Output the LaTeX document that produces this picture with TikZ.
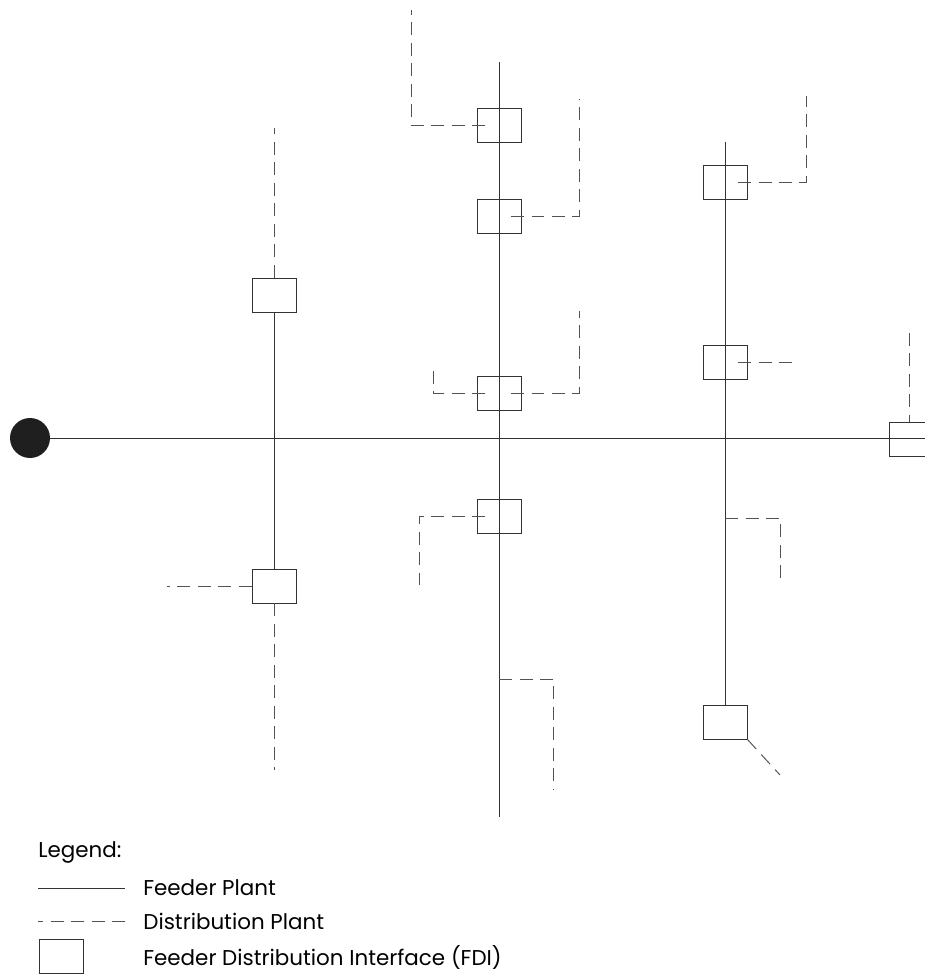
\documentclass[tikz,border=0pt]{standalone}
\usepackage{fontspec}
\setmainfont{Poppins}
\usetikzlibrary{positioning,calc}
\definecolor{plantgray}{HTML}{333333}
\tikzset{
  feeder/.style={draw=plantgray,line width=0.55pt},
  distrib/.style={draw=plantgray!85,line width=0.55pt,dash pattern=on 0.26cm off 0.15cm},
  fdi/.style={draw=plantgray,line width=0.55pt,minimum width=0.88cm,minimum height=0.68cm,inner sep=0pt},
  legtext/.style={anchor=west,inner sep=0pt,font=\fontsize{12.2}{14}\selectfont}
}

\begin{document}
\begin{tikzpicture}[x=0.02cm,y=-0.02cm]
  \useasboundingbox (0,0) rectangle (925,976);
  \clip (0,0) rectangle (925,976);
  % source
  \node[circle,fill=black!88,minimum size=0.8cm,inner sep=0pt] (src) at (30,438) {};
  % FDI boxes
  \node[fdi] (a1) at (274,295) {};
  \node[fdi] (a2) at (274,586) {};
  \node[fdi] (b1) at (499,125) {};
  \node[fdi] (b2) at (499,216) {};
  \node[fdi] (b3) at (499,393) {};
  \node[fdi] (b4) at (499,516) {};
  \node[fdi] (c1) at (725,182) {};
  \node[fdi] (c2) at (725,362) {};
  \node[fdi] (c3) at (725,722) {};
  \node[fdi] (d1) at (911,439) {};
  % feeder plant
  \coordinate (b0) at (499,62);
  \coordinate (b9) at (499,817);
  \coordinate (c0) at (725,142);
  \draw[feeder] (src) -- (src -| d1.east);
  \draw[feeder] (a1) -- (a2);
  \draw[feeder] (b0) -- (b9);
  \draw[feeder] (c0) -- (c3);
  % distribution plant
  \coordinate (a1n) at (274,128);
  \coordinate (a2w) at (167,586);
  \coordinate (a2s) at (274,770);
  \draw[distrib] (a1) -- (a1n);
  \draw[distrib] (a2) -- (a2w);
  \draw[distrib] (a2) -- (a2s);
  \coordinate (b1n) at (411,10);
  \coordinate (b2n) at (579,99);
  \coordinate (b3w) at (433,365);
  \coordinate (b3n) at (579,311);
  \coordinate (b4s) at (419,585);
  \coordinate (b5) at (499,679);
  \coordinate (b5s) at (553,790);
  \draw[distrib] ([xshift=-0.28cm]b1.center) -| (b1n);
  \draw[distrib] ([xshift=0.24cm]b2.center) -| (b2n);
  \draw[distrib] ([xshift=-0.28cm]b3.center) -| (b3w);
  \draw[distrib] ([xshift=0.24cm]b3.center) -| (b3n);
  \draw[distrib] ([xshift=-0.28cm]b4.center) -| (b4s);
  \draw[distrib] (b5) -| (b5s);
  \coordinate (c1n) at (806,96);
  \coordinate (c2e) at (795,362);
  \coordinate (c5) at (725,518);
  \coordinate (c5s) at (780,583);
  \coordinate (c3d) at (780,775);
  \draw[distrib] ([xshift=0.26cm]c1.center) -| (c1n);
  \draw[distrib] ([xshift=0.26cm]c2.center) -- (c2e);
  \draw[distrib] (c5) -| (c5s);
  \draw[distrib] (c3.south east) -- (c3d);
  \coordinate (d1n) at (909,333);
  \draw[distrib] (d1n) -- (d1n |- d1.north);
  % legend
  \node[legtext] (leg) at (38,852) {Legend:};
  \coordinate (lf0) at (38,888);
  \coordinate (lf1) at (125,888);
  \draw[feeder] (lf0) -- (lf1);
  \node[legtext] (lft) at (143,888) {Feeder Plant};
  \coordinate (ld0) at (38,921);
  \coordinate (ld1) at (125,921);
  \draw[distrib] (ld1) -- (ld0);
  \node[legtext] (ldt) at (143,921) {Distribution Plant};
  \node[fdi] (lb) at (61,956) {};
  \node[legtext] (lbt) at (143,957) {Feeder Distribution Interface (FDI)};
\end{tikzpicture}
\end{document}
